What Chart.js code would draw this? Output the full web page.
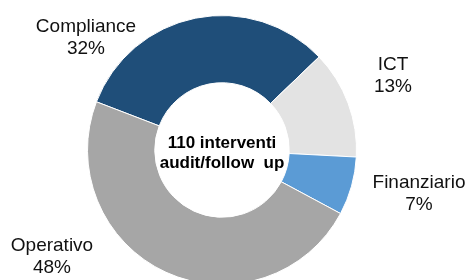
<!DOCTYPE html>
<html>
<head>
<meta charset="utf-8">
<script src="https://cdn.jsdelivr.net/npm/chart.js@4/dist/chart.umd.min.js"></script>
<style>
  html, body { margin: 0; padding: 0; background: #fff; overflow: hidden; }
  #wrap { position: absolute; left: 0; top: 0; width: 472px; height: 300px; }
</style>
</head>
<body>
<div id="wrap"><canvas id="c"></canvas></div>
<script>
const categories = ["Compliance", "ICT", "Finanziario", "Operativo"];
const shares = [32, 13, 7, 48];
const sliceColors = ["#1F4E79", "#E3E3E3", "#5B9BD5", "#A6A6A6"];
const centerLines = ["110 interventi", "audit/follow  up"];

// label anchor positions (layout only)
const labelPos = [[86, 27], [393, 65], [419, 183], [52, 246]];

const labelPlugin = {
  id: 'labels',
  afterDraw(chart) {
    const ctx = chart.ctx;
    ctx.save();
    ctx.textAlign = 'center';
    ctx.textBaseline = 'middle';
    ctx.fillStyle = '#111';
    ctx.font = '19px "Liberation Sans", Arial, sans-serif';
    categories.forEach((cat, i) => {
      const [x, y] = labelPos[i];
      ctx.fillText(cat, x, y);
      ctx.fillText(shares[i] + '%', x, y + 22);
    });
    const meta = chart.getDatasetMeta(0);
    const arc = meta.data[0];
    const cx = arc.x, cy = arc.y;
    ctx.fillStyle = '#000';
    ctx.font = 'bold 17px "Liberation Sans", Arial, sans-serif';
    ctx.fillText(centerLines[0], cx, cy - 7);
    ctx.fillText(centerLines[1], cx, cy + 13);
    ctx.restore();
  }
};

new Chart(document.getElementById('c'), {
  type: 'doughnut',
  data: {
    labels: categories,
    datasets: [{
      data: shares,
      backgroundColor: sliceColors,
      borderColor: '#ffffff',
      borderWidth: 1
    }]
  },
  options: {
    responsive: true,
    maintainAspectRatio: false,
    animation: false,
    rotation: -69,
    cutout: '50%',
    layout: { padding: { top: 15, bottom: 15, left: 87, right: 115 } },
    plugins: {
      legend: { display: false },
      tooltip: { enabled: false }
    }
  },
  plugins: [labelPlugin]
});
</script>
</body>
</html>
